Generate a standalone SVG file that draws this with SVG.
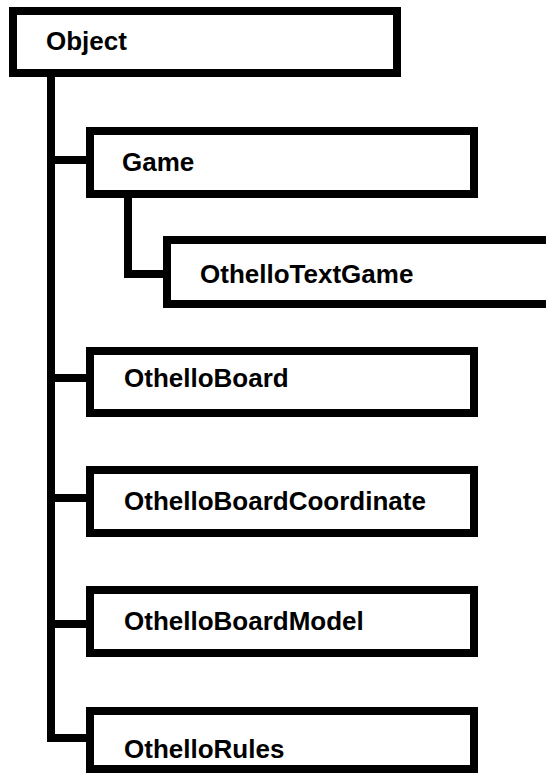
<svg xmlns="http://www.w3.org/2000/svg" width="546" height="774" viewBox="0 0 546 774">
  <style>
    .box { fill: #ffffff; stroke: #000000; stroke-width: 8; }
    .conn { fill: none; stroke: #000000; stroke-width: 8; stroke-linejoin: miter; }
    .label { font-family: "Liberation Sans", Arial, sans-serif; font-weight: bold; font-size: 26px; fill: #000000; }
  </style>
  <rect x="0" y="0" width="546" height="774" fill="#ffffff"/>
  <g id="connectors">
    <path class="conn" d="M51 73 V738 H90"/>
    <path class="conn" d="M51 160 H90"/>
    <path class="conn" d="M51 378 H90"/>
    <path class="conn" d="M51 498 H90"/>
    <path class="conn" d="M51 624 H90"/>
    <path class="conn" d="M128 194 V274 H167"/>
  </g>
  <g id="node-object">
    <rect class="box" x="13" y="11" width="384" height="62"/>
    <text class="label" x="46" y="50">Object</text>
  </g>
  <g id="node-game">
    <rect class="box" x="90" y="131" width="384" height="63"/>
    <text class="label" x="122" y="171">Game</text>
  </g>
  <g id="node-othellotextgame">
    <rect class="box" x="167" y="240" width="400" height="64"/>
    <text class="label" x="200" y="283">OthelloTextGame</text>
  </g>
  <g id="node-othelloboard">
    <rect class="box" x="90" y="351" width="384" height="62"/>
    <text class="label" x="124" y="387">OthelloBoard</text>
  </g>
  <g id="node-othelloboardcoordinate">
    <rect class="box" x="90" y="470" width="384" height="63"/>
    <text class="label" x="124" y="510">OthelloBoardCoordinate</text>
  </g>
  <g id="node-othelloboardmodel">
    <rect class="box" x="90" y="590" width="384" height="63"/>
    <text class="label" x="124" y="630">OthelloBoardModel</text>
  </g>
  <g id="node-othellorules">
    <rect class="box" x="90" y="711" width="384" height="58"/>
    <text class="label" x="124" y="758">OthelloRules</text>
  </g>
</svg>
